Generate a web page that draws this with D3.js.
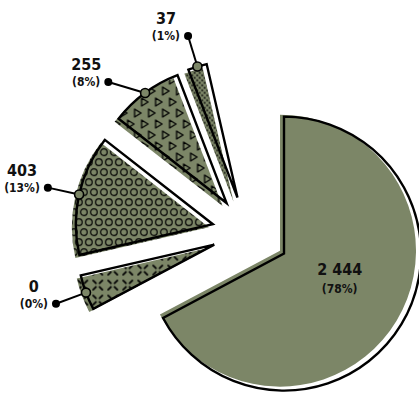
<!DOCTYPE html>
<html>
<head>
<meta charset="utf-8">
<script src="https://cdn.jsdelivr.net/npm/d3@7/dist/d3.min.js"></script>
<style>
  body { margin: 0; background: #fff; }
  svg { display: block; }
  text { font-family: 'DejaVu Sans Condensed', 'DejaVu Sans', sans-serif; font-weight: bold; fill: #111; }
</style>
</head>
<body>
<div id="chart"></div>
<script>
// slice values as labelled
const values = [2444, 0, 403, 255, 37];
// share of the circle each slice takes in the picture (degrees)
const sliceAngles = [242, 15, 51, 31, 8];
const emptyAngle = 13;
const patterns = ["solid", "crosses", "circles", "triangles", "dots"];

var width = 419,
    height = 396,
    center = [248, 232],
    radius = 137,
    labelRadius = 205,
    olive = "#7c8667";

var explode = [42, 36, 36, 36, 36];
// sketch look: fill is printed a bit off the outline
var fillShift = [[-4, -3], [-4, 3], [-4, 3], [-4, 3], [-4, 4]];

var total = d3.sum(values);
var fmt = d3.formatLocale({ decimal: ",", thousands: "\u00a0", grouping: [3], currency: ["", ""] }).format(",");

var svg = d3.select("#chart").append("svg")
    .attr("width", width)
    .attr("height", height);

var defs = svg.append("defs");

function pattern(id, w, h) {
    var p = defs.append("pattern").attr("id", id)
        .attr("patternUnits", "userSpaceOnUse")
        .attr("width", w).attr("height", h);
    p.append("rect").attr("width", w).attr("height", h).attr("fill", olive);
    return p;
}

// circles
var pc = pattern("p-circles", 10, 20);
[[5, 5], [0, 15], [10, 15]].forEach(function(c) {
    pc.append("circle").attr("cx", c[0]).attr("cy", c[1]).attr("r", 3.3)
        .attr("fill", "none").attr("stroke", "#000").attr("stroke-width", 1.2);
});

// triangles
var pt = pattern("p-triangles", 14, 22);
[[3, 2], [10, 13], [-4, 13]].forEach(function(c) {
    pt.append("path").attr("d", "M" + c[0] + "," + c[1] + "l6.5,4l-6.5,4z")
        .attr("fill", "none").attr("stroke", "#000").attr("stroke-width", 1.3)
        .attr("stroke-linejoin", "round");
});

// dots
var pd = pattern("p-dots", 5, 5);
[[1.25, 1.25], [3.75, 3.75]].forEach(function(c) {
    pd.append("circle").attr("cx", c[0]).attr("cy", c[1]).attr("r", 0.9).attr("fill", "#000");
});

// crosses made of short dashes
var px = pattern("p-crosses", 15, 15);
[[-1, -1], [1, -1], [1, 1], [-1, 1]].forEach(function(s) {
    px.append("line")
        .attr("x1", 7.5 + s[0] * 1.8).attr("y1", 7.5 + s[1] * 1.8)
        .attr("x2", 7.5 + s[0] * 4.6).attr("y2", 7.5 + s[1] * 4.6)
        .attr("stroke", "#000").attr("stroke-width", 1.8).attr("stroke-linecap", "round");
});

var fills = { solid: olive, crosses: "url(#p-crosses)", circles: "url(#p-circles)",
              triangles: "url(#p-triangles)", dots: "url(#p-dots)" };

var rows = values.map(function(v, i) {
    return { value: v, angle: sliceAngles[i], pattern: patterns[i], i: i };
});
rows.push({ empty: true, angle: emptyAngle });

var pie = d3.pie().sort(null).value(function(d) { return d.angle; });
var slices = pie(rows).filter(function(d) { return !d.data.empty; });

slices.forEach(function(s) {
    var mid = (s.startAngle + s.endAngle) / 2;
    var e = explode[s.data.i];
    s.mid = mid;
    s.ox = center[0] + e * Math.sin(mid);
    s.oy = center[1] - e * Math.cos(mid);
});

var arc = d3.arc().innerRadius(0).outerRadius(radius);
var arcFill = d3.arc().innerRadius(0).outerRadius(function(d) { return d.data.i === 0 ? radius - 1 : radius; });

var g = svg.append("g");

var sg = g.selectAll(".slice")
    .data(slices)
    .enter().append("g")
    .attr("class", "slice")
    .attr("transform", function(d) { return "translate(" + d.ox + "," + d.oy + ")"; });

sg.append("path")
    .attr("transform", function(d) { var f = fillShift[d.data.i]; return "translate(" + f[0] + "," + f[1] + ")"; })
    .attr("d", arcFill)
    .attr("fill", function(d) { return fills[d.data.pattern]; });

sg.append("path")
    .attr("d", arc)
    .attr("fill", "none")
    .attr("stroke", "#000")
    .attr("stroke-width", 2.4)
    .attr("stroke-linejoin", "miter");

// big slice label inside
var big = slices[0];
var cen = arc.centroid(big);
var bx = big.ox + cen[0] - 3, by = big.oy + cen[1];
g.append("text").attr("x", bx).attr("y", by - 14).attr("text-anchor", "middle")
    .style("font-size", "16px").text(fmt(big.data.value));
g.append("text").attr("x", bx).attr("y", by + 4).attr("text-anchor", "middle")
    .style("font-size", "12px").text("(" + Math.round(big.data.value / total * 100) + "%)");

// outside labels, left side, pushed apart
var outs = slices.slice(1).map(function(s) {
    return { s: s, y: center[1] - labelRadius * Math.cos(s.mid) };
}).sort(function(a, b) { return a.y - b.y; });

for (var k = 1; k < outs.length; k++) {
    if (outs[k].y < outs[k - 1].y + 46) outs[k].y = outs[k - 1].y + 46;
}
outs.forEach(function(o) {
    var dy = o.y - center[1];
    o.x = center[0] - Math.sqrt(Math.max(0, labelRadius * labelRadius - dy * dy));
});

var lg = g.selectAll(".lbl")
    .data(outs)
    .enter().append("g")
    .attr("class", "lbl");

lg.append("line")
    .attr("x1", function(d) { return d.x; })
    .attr("y1", function(d) { return d.y; })
    .attr("x2", function(d) { return d.s.ox + radius * Math.sin(d.s.mid); })
    .attr("y2", function(d) { return d.s.oy - radius * Math.cos(d.s.mid); })
    .attr("stroke", "#000").attr("stroke-width", 2);

lg.append("circle")
    .attr("cx", function(d) { return d.x; })
    .attr("cy", function(d) { return d.y; })
    .attr("r", 4).attr("fill", "#000");

lg.append("circle")
    .attr("cx", function(d) { return d.s.ox + radius * Math.sin(d.s.mid); })
    .attr("cy", function(d) { return d.s.oy - radius * Math.cos(d.s.mid); })
    .attr("r", 4.5).attr("fill", olive).attr("stroke", "#000").attr("stroke-width", 1.6);

lg.each(function(d) {
    var el = d3.select(this);
    var pct = el.append("text")
        .attr("y", d.y + 4)
        .attr("text-anchor", "middle")
        .style("font-size", "12px")
        .text("(" + Math.round(d.s.data.value / total * 100) + "%)");
    var w = pct.node().getComputedTextLength();
    var cx = d.x - 8 - w / 2;
    pct.attr("x", cx);
    el.append("text")
        .attr("x", cx)
        .attr("y", d.y - 12)
        .attr("text-anchor", "middle")
        .style("font-size", "16px")
        .text(fmt(d.s.data.value));
});
</script>
</body>
</html>
